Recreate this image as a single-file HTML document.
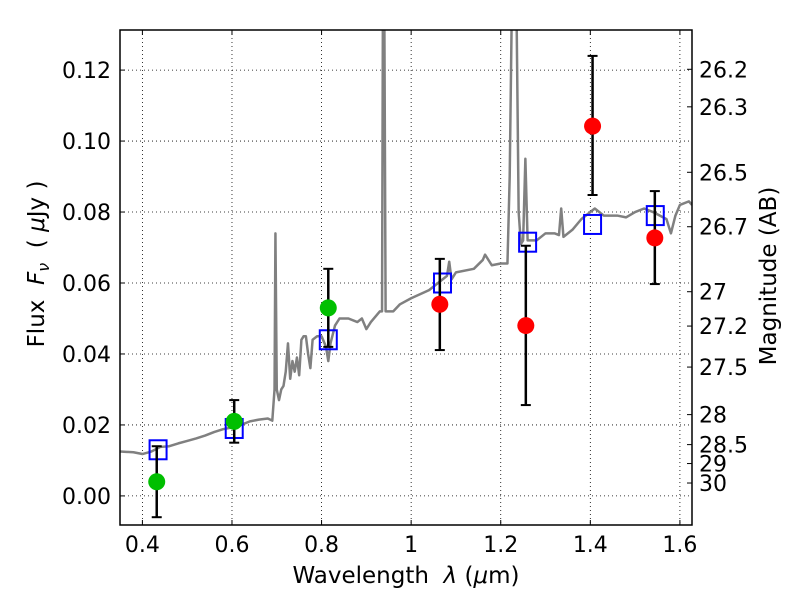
<!DOCTYPE html>
<html><head><meta charset="utf-8"><style>
html,body{margin:0;padding:0;background:#fff;}
svg{display:block;font-family:"DejaVu Sans","Liberation Sans",sans-serif;}
</style></head><body>
<svg id="chart" width="800" height="600"></svg>
<script>
const specWave=[0.35,0.38,0.40,0.42,0.44,0.46,0.48,0.50,0.52,0.54,0.56,0.58,0.60,0.62,0.64,0.66,0.68,0.69,0.695,0.697,0.700,0.705,0.71,0.715,0.72,0.725,0.73,0.735,0.74,0.745,0.75,0.755,0.76,0.765,0.77,0.775,0.78,0.79,0.80,0.81,0.815,0.82,0.83,0.84,0.86,0.88,0.89,0.90,0.91,0.93,0.935,0.937,0.94,0.943,0.96,0.975,1.0,1.04,1.06,1.08,1.085,1.09,1.10,1.14,1.16,1.165,1.18,1.20,1.215,1.22,1.225,1.235,1.24,1.245,1.25,1.255,1.26,1.28,1.30,1.32,1.33,1.335,1.34,1.36,1.38,1.40,1.41,1.43,1.46,1.48,1.50,1.52,1.54,1.57,1.58,1.59,1.60,1.62,1.627];
const specFlux=[0.0125,0.0123,0.0118,0.0125,0.0138,0.0140,0.0148,0.0155,0.0162,0.0170,0.0180,0.0188,0.0193,0.0200,0.0210,0.0215,0.0218,0.0212,0.030,0.074,0.030,0.027,0.030,0.031,0.035,0.043,0.033,0.038,0.035,0.039,0.034,0.044,0.045,0.045,0.040,0.036,0.044,0.045,0.045,0.042,0.038,0.043,0.048,0.050,0.050,0.049,0.050,0.047,0.049,0.052,0.052,0.14,0.14,0.052,0.052,0.054,0.0557,0.058,0.060,0.062,0.066,0.061,0.063,0.064,0.0665,0.068,0.065,0.0655,0.0655,0.09,0.14,0.14,0.08,0.071,0.072,0.095,0.072,0.072,0.074,0.074,0.0735,0.081,0.073,0.075,0.078,0.080,0.081,0.079,0.079,0.0785,0.080,0.081,0.080,0.078,0.074,0.079,0.082,0.083,0.082];
const greenWave=[0.432,0.605,0.815];
const greenFlux=[0.004,0.021,0.053];
const greenLo=[-0.006,0.015,0.042];
const greenHi=[0.014,0.027,0.064];
const redWave=[1.064,1.256,1.405,1.544];
const redFlux=[0.054,0.048,0.1042,0.0727];
const redLo=[0.0411,0.0256,0.0848,0.0597];
const redHi=[0.0668,0.0705,0.124,0.0859];
const modelWave=[0.435,0.605,0.815,1.07,1.26,1.405,1.545];
const modelFlux=[0.013,0.019,0.044,0.060,0.0715,0.0765,0.079];
const xTicks=[0.4,0.6,0.8,1.0,1.2,1.4,1.6];
const xTickLabels=["0.4","0.6","0.8","1","1.2","1.4","1.6"];
const yTicks=[0,0.02,0.04,0.06,0.08,0.10,0.12];
const yTickLabels=["0.00","0.02","0.04","0.06","0.08","0.10","0.12"];
const magTicks=[26.2,26.3,26.5,26.7,27,27.2,27.5,28,28.5,29,30];
const magTickLabels=["26.2","26.3","26.5","26.7","27","27.2","27.5","28","28.5","29","30"];

const L=120,R=692,T=30,B=525;
const x0=0.35,x1=1.627,y0=-0.0082,y1=0.1313;
const sx=v=>L+(v-x0)/(x1-x0)*(R-L);
const sy=v=>B-(v-y0)/(y1-y0)*(B-T);
const svg=document.getElementById('chart');
const NS='http://www.w3.org/2000/svg';
function mk(tag,attrs,parent){const e=document.createElementNS(NS,tag);for(const k in attrs)e.setAttribute(k,attrs[k]);(parent||svg).appendChild(e);return e;}

const defs=mk('defs',{});
const cp=mk('clipPath',{id:'clip'},defs);
mk('rect',{x:L,y:T,width:R-L,height:B-T},cp);

xTicks.forEach((t,i)=>{
  const g=mk('line',{x1:sx(t),x2:sx(t),y1:T,y2:B,stroke:'#000','stroke-width':0.8,'stroke-dasharray':'1,3'});
  
  
  mk('line',{x1:sx(t),x2:sx(t),y1:B,y2:B-5,stroke:'#000'});
  mk('line',{x1:sx(t),x2:sx(t),y1:T,y2:T+5,stroke:'#000'});
  const tx=mk('text',{x:sx(t),y:B+27,'font-size':22,'text-anchor':'middle'});
  tx.textContent=xTickLabels[i];
  
  
});
yTicks.forEach((t,i)=>{
  const g=mk('line',{x1:L,x2:R,y1:sy(t),y2:sy(t),stroke:'#000','stroke-width':0.8,'stroke-dasharray':'1,3'});
  
  
  mk('line',{x1:L,x2:L+5,y1:sy(t),y2:sy(t),stroke:'#000'});
  const tx=mk('text',{x:L-9,y:sy(t)+8,'font-size':22,'text-anchor':'end'});
  tx.textContent=yTickLabels[i];
  
  
});
magTicks.forEach((m,i)=>{
  const f=Math.pow(10,(23.9-m)/2.5);
  mk('line',{x1:R,x2:R-5,y1:sy(f),y2:sy(f),stroke:'#000'});
  const tx=mk('text',{x:R+7,y:sy(f)+8,'font-size':22});
  tx.textContent=magTickLabels[i];
  
  
});

const pl=mk('polyline',{points:specWave.map((w,i)=>sx(w)+','+sy(specFlux[i])).join(' '),fill:'none',stroke:'#808080','stroke-width':2.5,'clip-path':'url(#clip)','stroke-linejoin':'round'});



modelWave.forEach((w,i)=>{
  const r=mk('rect',{x:sx(w)-8.5,y:sy(modelFlux[i])-9.5,width:17,height:19,fill:'none',stroke:'#0000ff','stroke-width':2});
  
  
});
function pts(wv,fl,lo,hi,col,name){
  wv.forEach((w,i)=>{
    const x=sx(w);
    const e=mk('g',{});
    
    
    mk('line',{x1:x,x2:x,y1:sy(lo[i]),y2:sy(hi[i]),stroke:'#000','stroke-width':2.5},e);
    mk('line',{x1:x-5,x2:x+5,y1:sy(lo[i]),y2:sy(lo[i]),stroke:'#000','stroke-width':2},e);
    mk('line',{x1:x-5,x2:x+5,y1:sy(hi[i]),y2:sy(hi[i]),stroke:'#000','stroke-width':2},e);
    const c=mk('circle',{cx:x,cy:sy(fl[i]),r:8.5,fill:col});
    
    
  });
}
pts(greenWave,greenFlux,greenLo,greenHi,'#00bf00','optical-point');
pts(redWave,redFlux,redLo,redHi,'#ff0000','nir-point');

const fr=mk('rect',{x:L,y:T,width:R-L,height:B-T,fill:'none',stroke:'#000','stroke-width':1.5});



const xt=mk('text',{x:406,y:583,'font-size':23,'text-anchor':'middle',style:'white-space:pre'});
xt.innerHTML='Wavelength  <tspan font-style="italic">λ</tspan> (<tspan font-style="italic">μ</tspan>m)';


const yt=mk('text',{x:0,y:0,'font-size':23,'text-anchor':'middle',style:'white-space:pre',transform:'translate(44,264) rotate(-90)'});
yt.innerHTML='Flux  <tspan font-style="italic">F</tspan><tspan font-style="italic" font-size="16" dy="5">ν</tspan><tspan dy="-5">  ( </tspan><tspan font-style="italic">μ</tspan>Jy )';


const rt=mk('text',{x:0,y:0,'font-size':23,'text-anchor':'middle',transform:'translate(776,276) rotate(-90)'});
rt.textContent='Magnitude (AB)';


</script>
</body></html>
